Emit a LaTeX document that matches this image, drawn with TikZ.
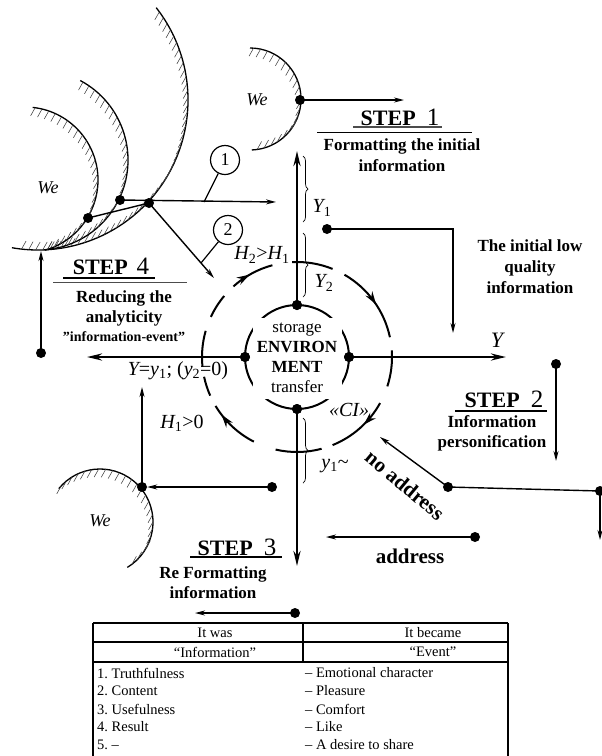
\documentclass[tikz,border=0pt]{standalone}
\usepackage{fontspec}
\setmainfont{Liberation Serif}
\usetikzlibrary{arrows.meta,decorations.markings,decorations.pathreplacing}
\frenchspacing
\newcommand{\snum}[1]{{\mdseries\fontsize{25}{25}\selectfont #1}}
\newcommand{\hatcharc}[6]{\foreach \t in {#4,#5,...,#6} {\pgfmathsetmacro\hs{\t<30 ? 1 : -1}\draw[hatchl] (#1,#2) ++(\t:#3) -- ++({-4.5*\hs},{8*\hs});}}
\tikzset{
  hatchl/.style={line width=0.55pt,black!75},
  carrow/.style={postaction={decorate,decoration={markings,mark=at position #1 with {\arrow{Stealth[length=13pt,width=8pt]}}}}},
  dotn/.style={circle,fill=black,inner sep=0pt,minimum size=10pt},
  thinarrow/.style={line width=1.4pt,-{Stealth[length=10pt,width=5pt]}},
  thinline/.style={line width=1.4pt},
  axisarrow/.style={line width=2.6pt,-{Stealth[length=15pt,width=7pt]}},
  dc/.style={line width=2pt},
  wearc/.style={line width=1.3pt},
  stepn/.style={font=\fontsize{22}{24}\selectfont\bfseries,inner sep=1pt},
  sub/.style={font=\fontsize{17}{21}\selectfont\bfseries,align=center,inner sep=1pt},
  lbl/.style={font=\fontsize{20}{22}\selectfont,inner sep=1pt},
  wel/.style={font=\fontsize{18}{20}\selectfont\itshape,inner sep=1pt},
  bracel/.style={decorate,decoration={brace,amplitude=5pt},line width=0.7pt},
  numc/.style={circle,draw,line width=1.2pt,minimum size=29pt,inner sep=0pt,font=\fontsize{18}{18}\selectfont},
  tab/.style={font=\fontsize{14.5}{16}\selectfont\frenchspacing,inner sep=1pt},
}
\begin{document}
\begin{tikzpicture}[x=1pt,y=-1pt]
\useasboundingbox (0,0) rectangle (602,756);

% ---------- hatched "We" arcs ----------
\draw[wearc] (38,100) ++(-38:150) arc[start angle=-38,end angle=100,radius=150];
\hatcharc{38}{100}{150}{-36}{-33.3}{98}
\draw[wearc] (38,160) ++(-62:90) arc[start angle=-62,end angle=86,radius=90];
\hatcharc{38}{160}{90}{-60}{-55.5}{84}
\draw[wearc] (25,180) ++(-84:73) arc[start angle=-84,end angle=74,radius=73];
\hatcharc{25}{180}{73}{-82}{-76.5}{72}
\draw[wearc] (250,99) ++(-90:51) arc[start angle=-90,end angle=88,radius=51];
\hatcharc{250}{99}{51}{-86}{-78}{86}
\draw[wearc] (100,522) ++(-141:53) arc[start angle=-141,end angle=59,radius=53];
\hatcharc{100}{522}{53}{-137}{-129.4}{57}

\node[wel] (we1) at (257,100) {We};
\node[wel] (we2) at (48,188) {We};
\node[wel] (we3) at (100,521) {We};

% ---------- dashed circle ----------
\coordinate (O) at (297,357);
\draw[dc,carrow=0.45] (O) ++(228:95) arc[start angle=228,end angle=255,radius=95];
\draw[dc] (O) ++(267:95) arc[start angle=267,end angle=292,radius=95];
\draw[dc,carrow=0.55] (O) ++(300:95) arc[start angle=300,end angle=348,radius=95];
\draw[dc] (O) ++(356:95) arc[start angle=356,end angle=378,radius=95];
\draw[dc,carrow=0.42] (O) ++(29:95) arc[start angle=29,end angle=68,radius=95];
\draw[dc] (O) ++(75:95) arc[start angle=75,end angle=103,radius=95];
\draw[dc,carrow=0.8] (O) ++(117:95) arc[start angle=117,end angle=149,radius=95];
\draw[dc] (O) ++(156:95) arc[start angle=156,end angle=168,radius=95];
\draw[dc] (O) ++(174:95) arc[start angle=174,end angle=196,radius=95];
\draw[dc] (O) ++(205:95) arc[start angle=205,end angle=220,radius=95];

% ---------- inner circle and axes ----------
\node[dotn] (dN) at (297,305) {};
\node[dotn] (dS) at (297,409) {};
\node[dotn] (dW) at (245,357) {};
\node[dotn] (dE) at (349,357) {};
\coordinate (tN) at (297,151);
\coordinate (tS) at (297,566);
\coordinate (tW) at (87,357);
\coordinate (tE) at (506,357);
\draw[axisarrow] (dN.center) -- (tN);
\draw[axisarrow] (dS.center) -- (tS);
\draw[axisarrow] (dW.center) -- (tW);
\draw[axisarrow] (dE.center) -- (tE);
\draw[dc] (O) circle[radius=52];
\node[fill=white,inner sep=0pt,minimum width=89pt,minimum height=81pt,align=center,font=\fontsize{17}{20}\selectfont] (env) at (297,358) {storage\\\textbf{ENVIRON}\\\textbf{MENT}\\transfer};
\node[dotn] at (dN) {};
\node[dotn] at (dS) {};
\node[dotn] at (dW) {};
\node[dotn] at (dE) {};

% ---------- top-left connectors ----------
\node[dotn] (dTR) at (300,100) {};
\coordinate (tTR) at (404,100);
\draw[thinarrow] (dTR.center) -- (tTR);
\node[dotn] (dA) at (149,203) {};
\node[dotn] (dB) at (120,200) {};
\node[dotn] (dC) at (88,218) {};
\coordinate (tH) at (276,202);
\coordinate (tD) at (214,278);
\draw[thinarrow] (dB.center) -- (tH);
\draw[thinline] (dC.center) -- (dA.center);
\draw[thinarrow] (dA.center) -- (tD);
\node[numc] (c1) at (225,160) {1};
\node[numc] (c2) at (228,230) {2};
\coordinate (l1) at (204,202);
\coordinate (l2) at (201,263);
\draw[line width=1.2pt] (c1) -- (l1);
\draw[line width=1.2pt] (c2) -- (l2);

\node[dotn] (dL) at (41,353) {};
\coordinate (tL) at (41,251);
\draw[thinarrow] (dL.center) -- (tL);

% ---------- braces ----------
\coordinate (b1a) at (303,156); \coordinate (b1b) at (303,222);
\coordinate (b2a) at (303,233); \coordinate (b2b) at (303,297);
\coordinate (b3a) at (303,418); \coordinate (b3b) at (303,483);
\draw[bracel] (b1a) -- (b1b);
\draw[bracel] (b2a) -- (b2b);
\draw[bracel] (b3a) -- (b3b);
\node[lbl] (y1l) at (322,208) {\itshape Y\textsubscript{\upshape 1}};
\node[lbl] (y2l) at (324,283) {\itshape Y\textsubscript{\upshape 2}};
\node[lbl] (y3l) at (335,466) {\itshape y\textsubscript{\upshape 1}\upshape\textasciitilde};

% ---------- right side ----------
\node[dotn] (dY1) at (327,229) {};
\coordinate (tY1) at (453,333);
\draw[thinarrow] (dY1.center) -| (tY1);
\node[dotn] (dR) at (556,364) {};
\coordinate (tR) at (556,461);
\draw[thinarrow] (dR.center) -- (tR);
\node[dotn] (dNA) at (448,487) {};
\node[dotn] (dRE) at (600,491) {};
\coordinate (tNA) at (380,437);
\coordinate (tRE) at (600,540);
\draw[thinarrow] (dNA.center) -- (tNA);
\draw[thinline] (dNA.center) -- (dRE.center);
\draw[thinarrow] (dRE.center) -- (tRE);
\node[dotn] (dAD) at (475,537) {};
\coordinate (tAD) at (326,537);
\draw[thinarrow] (dAD.center) -- (tAD);

% ---------- bottom ----------
\node[dotn] (dS3) at (295,613) {};
\coordinate (tS3) at (195,613);
\draw[thinarrow] (dS3.center) -- (tS3);
\node[dotn] (dBL) at (142,487) {};
\node[dotn] (dBL2) at (272,487) {};
\draw[thinarrow] (dBL2.center) -- (dBL);
\coordinate (tBL) at (142,387);
\draw[thinarrow] (dBL.center) -- (tBL);

% ---------- labels ----------
\node[lbl,font=\fontsize{22}{22}\selectfont] (ylab) at (497,340) {\itshape Y};
\node[lbl] (h21) at (262,255) {{\itshape H}\textsubscript{2}>{\itshape H}\textsubscript{1}};
\node[lbl] (h10) at (182,423) {{\itshape H}\textsubscript{1}>0};
\node[lbl] (ci) at (349,410) {\itshape «CI»};
\node[lbl] (yeq) at (178,371) {{\itshape Y}={\itshape y}\textsubscript{1}; ({\itshape y}\textsubscript{2}=0)};

% ---------- STEP texts ----------
\node[stepn] (s1) at (400,117) {STEP\hspace{0.5em}\snum{1}};
\draw[line width=1.6pt,black!70] (353,127) -- (442,127);
\draw[line width=1pt] (317,132) -- (472,132);
\node[sub] (f1) at (402,155) {Formatting the initial\\information};
\node[sub] (iq) at (530,267) {The initial low\\quality\\information};

\node[stepn] (s2) at (504,399) {STEP\hspace{0.5em}\snum{2}};
\draw[line width=1.5pt] (455,411) -- (547,411);
\node[sub,font=\fontsize{17}{20}\selectfont\bfseries] (ip) at (492,433) {Information\\personification};

\node[stepn] (s3) at (237,547) {STEP\hspace{0.5em}\snum{3}};
\draw[line width=1.5pt] (190,557) -- (282,557);
\node[sub,font=\fontsize{17}{20}\selectfont\bfseries] (rf) at (213,583) {Re Formatting\\information};

\node[stepn] (s4) at (111,266) {STEP\hspace{0.4em}\snum{4}};
\draw[line width=1.6pt] (63,278) -- (155,278);
\draw[line width=1pt,black!70] (53,282) -- (187,282);
\node[sub,font=\fontsize{17}{20}\selectfont\bfseries] (rd) at (124,308) {Reducing the\\analyticity};
\node[sub,font=\fontsize{14}{16}\selectfont\bfseries] (ie) at (124,337) {"information-event"};

\node[font=\fontsize{21}{23}\selectfont\bfseries,rotate=-40,inner sep=1pt] (na) at (405,485) {no address};
\node[font=\fontsize{21}{23}\selectfont\bfseries,inner sep=1pt] (ad) at (410,556) {address};

% ---------- table ----------
\draw[line width=1.8pt] (93,623) -- (508,623);
\draw[line width=1.4pt] (93,642) -- (508,642);
\draw[line width=1.8pt] (93,662) -- (508,662);
\draw[line width=1.2pt] (303,623) -- (303,662);
\draw[line width=1.2pt] (93,623) -- (93,756);
\draw[line width=1.2pt] (508,623) -- (508,756);
\node[tab] (th1) at (215,633) {It was};
\node[tab] (th2) at (433,633) {It became};
\node[tab] (th3) at (215,652) {``Information''};
\node[tab] (th4) at (433,652) {``Event''};
\node[tab,anchor=west] (r1a) at (96,673) {1. Truthfulness};
\node[tab,anchor=west] (r2a) at (96,691) {2. Content};
\node[tab,anchor=west] (r3a) at (96,709) {3. Usefulness};
\node[tab,anchor=west] (r4a) at (96,727) {4. Result};
\node[tab,anchor=west] (r5a) at (96,745) {5. –};
\node[tab,anchor=west] (r1b) at (304,673) {– Emotional character};
\node[tab,anchor=west] (r2b) at (304,691) {– Pleasure};
\node[tab,anchor=west] (r3b) at (304,709) {– Comfort};
\node[tab,anchor=west] (r4b) at (304,727) {– Like};
\node[tab,anchor=west] (r5b) at (304,745) {– A desire to share};
\end{tikzpicture}
\end{document}
